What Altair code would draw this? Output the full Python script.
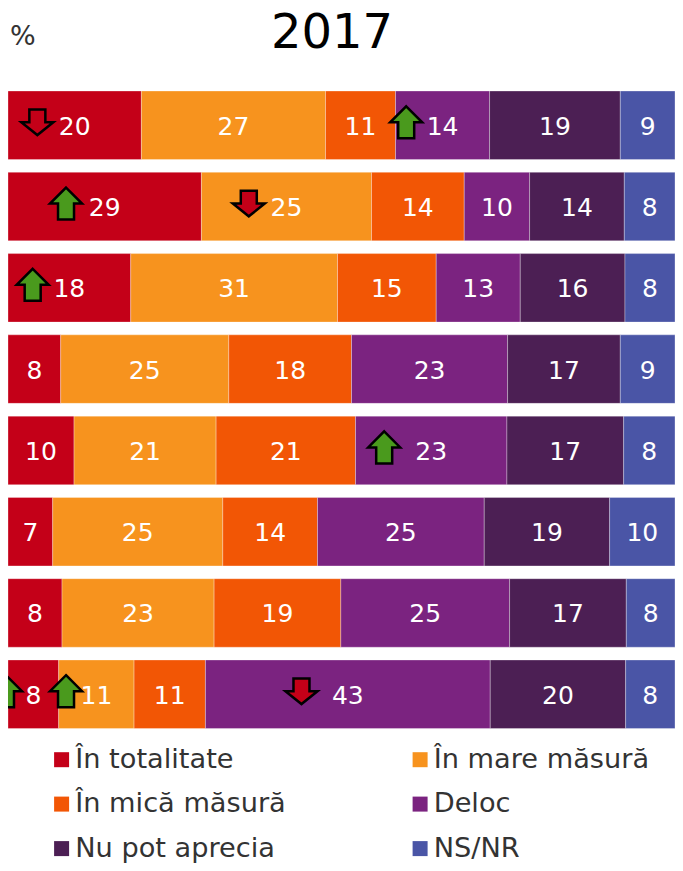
import altair as alt
import pandas as pd

FONT = "DejaVu Sans"
rows = ["A", "B", "C", "D", "E", "F", "G", "H"]
categories = ["În totalitate", "În mare măsură", "În mică măsură", "Deloc", "Nu pot aprecia", "NS/NR"]
legend_order = ["În totalitate", "În mică măsură", "Nu pot aprecia", "În mare măsură", "Deloc", "NS/NR"]
legend_colors = ["#C40018", "#F25605", "#4C1F54", "#F7931E", "#7B2380", "#4A55A6"]

values = [
    [20.0, 27.6, 10.5, 14.1, 19.6, 8.2],
    [29.0, 25.5, 13.9, 9.8, 14.2, 7.6],
    [18.4, 31.0, 14.8, 12.6, 15.7, 7.5],
    [7.9, 25.2, 18.4, 23.4, 16.9, 8.2],
    [9.9, 21.3, 20.9, 22.7, 17.5, 7.7],
    [6.7, 25.5, 14.2, 25.0, 18.8, 9.8],
    [8.1, 22.8, 19.0, 25.3, 17.5, 7.3],
    [7.6, 11.3, 10.7, 42.7, 20.3, 7.4],
]
labels = [
    [20, 27, 11, 14, 19, 9],
    [29, 25, 14, 10, 14, 8],
    [18, 31, 15, 13, 16, 8],
    [8, 25, 18, 23, 17, 9],
    [10, 21, 21, 23, 17, 8],
    [7, 25, 14, 25, 19, 10],
    [8, 23, 19, 25, 17, 8],
    [8, 11, 11, 43, 20, 8],
]

arrow_rows = ["A", "A", "B", "B", "C", "E", "H", "H", "H"]
arrow_pos = [4.4, 59.7, 8.7, 36.1, 3.7, 56.4, -0.3, 8.7, 44.0]
arrow_dirs = ["down", "up", "up", "down", "up", "up", "up", "up", "down"]
arrow_fills = ["#C40018", "#4A9A1D", "#4A9A1D", "#C40018", "#4A9A1D", "#4A9A1D", "#4A9A1D", "#4A9A1D", "#C40018"]

UP = "M0,-1 L1,0 L0.5,0 L0.5,1 L-0.5,1 L-0.5,0 L-1,0 Z"
DOWN = "M-0.5,-0.8 L0.5,-0.8 L0.5,0 L1,0 L0,0.8 L-1,0 L-0.5,0 Z"

recs = []
for r, vals, labs in zip(rows, values, labels):
    s = 0.0
    for c, v, l in zip(categories, vals, labs):
        recs.append({"row": r, "cat": c, "start": s, "end": s + v, "mid": s + v / 2, "label": l})
        s += v
df = pd.DataFrame(recs)
arrows = pd.DataFrame({"row": arrow_rows, "pos": arrow_pos, "dir": arrow_dirs, "fill": arrow_fills})

xs = alt.Scale(domain=[0, 100], nice=False, zero=False)
ys = alt.Scale(domain=rows, paddingInner=0.157, paddingOuter=0)
y_enc = alt.Y("row:N", scale=ys, sort=rows, axis=None)

bars = alt.Chart(df).mark_bar(stroke="#ffffff", strokeWidth=1, strokeOpacity=0.3).encode(
    x=alt.X("start:Q", scale=xs, axis=None),
    x2="end:Q",
    y=y_enc,
    color=alt.Color(
        "cat:N",
        scale=alt.Scale(domain=legend_order, range=legend_colors),
        sort=legend_order,
        legend=alt.Legend(
            title=None, orient="none", legendX=40, legendY=655, columns=2, symbolType="square",
            symbolSize=225, symbolStrokeWidth=0, labelFont=FONT, labelFontSize=27.2, labelColor="#333333",
            columnPadding=115.5, rowPadding=16.5, labelOffset=0, labelLimit=320, gridAlign="all",
        ),
    ),
)
text = alt.Chart(df).mark_text(font=FONT, fontSize=25, color="#ffffff", dy=1.5).encode(
    x=alt.X("mid:Q", scale=xs), y=y_enc, text="label:N"
)
percent = alt.Chart().mark_text(font=FONT, fontSize=27, color="#333333", align="left", baseline="middle").encode(
    x=alt.value(2), y=alt.value(-54), text=alt.datum("%")
)
year = alt.Chart().mark_text(font=FONT, fontSize=48, color="#000000", align="center", baseline="middle").encode(
    x=alt.value(324), y=alt.value(-57), text=alt.datum("2017")
)


def arrow_layer(d, path):
    return alt.Chart(arrows[arrows["dir"] == d]).mark_point(
        shape=path, size=1024, filled=True, stroke="#000000", strokeWidth=2.5, opacity=1, yOffset=-3
    ).encode(
        x=alt.X("pos:Q", scale=xs),
        y=y_enc,
        fill=alt.Fill("fill:N", scale=None),
    )


chart = alt.layer(bars, text, arrow_layer("up", UP), arrow_layer("down", DOWN), percent, year).properties(
    width=667,
    height=637.5,
    autosize=alt.AutoSizeParams(type="none"),
    padding={"left": 0, "right": 0, "top": 83, "bottom": 134.5},
    background="#ffffff",
).configure_view(stroke=None)

chart.save("out.html", embed_options={"renderer": "svg", "actions": False})
